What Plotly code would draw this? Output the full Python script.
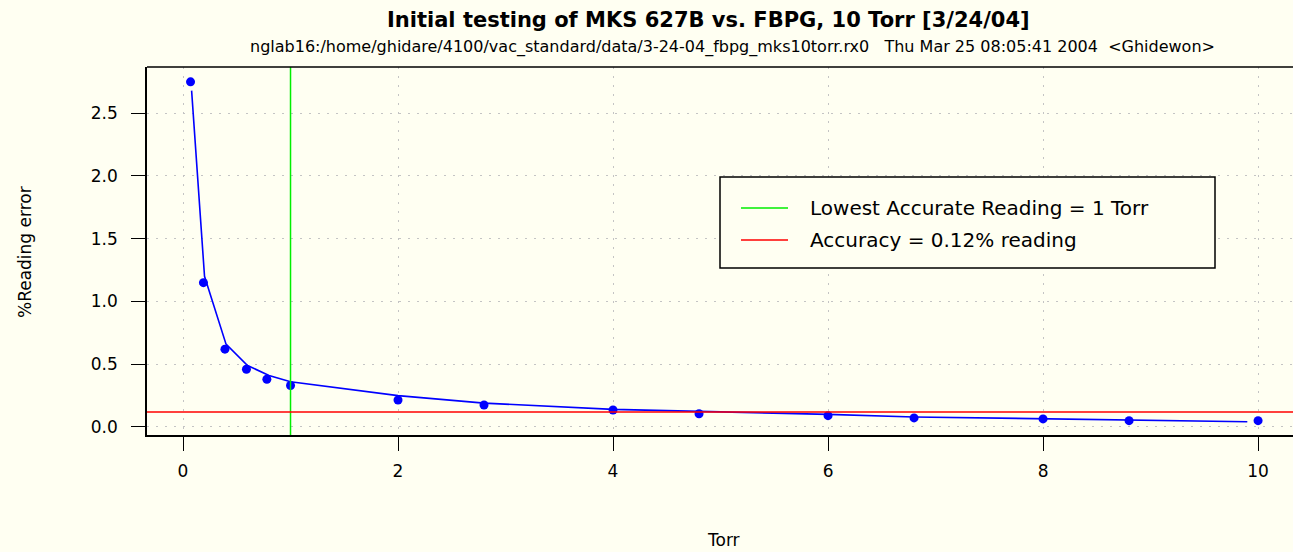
import plotly.graph_objects as go

# Measured data (Torr vs % reading error)
torr = [0.07, 0.19, 0.39, 0.59, 0.78, 1.0, 2.0, 2.8, 4.0, 4.8, 6.0, 6.8, 8.0, 8.8, 10.0]
pct_error = [2.75, 1.15, 0.62, 0.46, 0.38, 0.33, 0.215, 0.175, 0.135, 0.105, 0.09, 0.072, 0.064, 0.05, 0.05]

# Fitted/connecting curve
fit_torr = [0.08, 0.2, 0.4, 0.6, 0.8, 1.0, 2.0, 2.8, 4.0, 4.8, 6.0, 6.8, 8.0, 8.8, 9.9]
fit_error = [2.68, 1.2, 0.66, 0.49, 0.41, 0.36, 0.25, 0.19, 0.14, 0.125, 0.1, 0.08, 0.066, 0.058, 0.042]

lowest_accurate_torr = 1.0
accuracy_pct = 0.12

x_ticks = [0, 2, 4, 6, 8, 10]
y_ticks = [0.0, 0.5, 1.0, 1.5, 2.0, 2.5]

legend_labels = ["Lowest Accurate Reading = 1 Torr", "Accuracy = 0.12% reading"]
legend_colors = ["#00EE00", "#FF0000"]

BG = "#FFFFF2"
FONT = "DejaVu Sans, Liberation Sans, Arial, sans-serif"

fig = go.Figure()
fig.add_trace(go.Scatter(x=fit_torr, y=fit_error, mode="lines",
                         line=dict(color="#0000FF", width=1.6), showlegend=False))
fig.add_trace(go.Scatter(x=torr, y=pct_error, mode="markers",
                         marker=dict(color="#0000FF", size=9, symbol="circle"),
                         showlegend=False))

fig.add_vline(x=lowest_accurate_torr, line=dict(color=legend_colors[0], width=1.5))
fig.add_hline(y=accuracy_pct, line=dict(color=legend_colors[1], width=1.5))

W, H = 1293, 552
L, R, T, B = 147, 0, 67, 117
pw, ph = W - L - R, H - T - B

def px(xp):
    return (xp - L) / pw

def py(yp):
    return (H - B - yp) / ph

# top border of plot box (right side runs off the picture)
fig.add_shape(type="line", xref="paper", yref="paper", x0=0, x1=1.01, y0=1, y1=1,
              line=dict(color="black", width=1.5), layer="above")

# Legend box
fig.add_shape(type="rect", xref="paper", yref="paper",
              x0=px(720), x1=px(1215), y0=py(268), y1=py(177),
              line=dict(color="black", width=1.5), fillcolor=BG, layer="above")
for i, (lab, col) in enumerate(zip(legend_labels, legend_colors)):
    yy = 208 + i * 32
    fig.add_shape(type="line", xref="paper", yref="paper",
                  x0=px(741), x1=px(788), y0=py(yy), y1=py(yy),
                  line=dict(color=col, width=1.5), layer="above")
    fig.add_annotation(xref="paper", yref="paper", x=px(808), y=py(yy),
                       text=lab, showarrow=False, xanchor="left", yanchor="middle",
                       font=dict(family=FONT, size=20, color="black"))

# Titles
fig.add_annotation(xref="paper", yref="paper", x=px(708), y=py(20),
                   text="<b>Initial testing of MKS 627B vs. FBPG, 10 Torr [3/24/04]</b>",
                   showarrow=False, xanchor="center", yanchor="middle",
                   font=dict(family=FONT, size=21, color="black"))
fig.add_annotation(xref="paper", yref="paper", x=px(732), y=py(47),
                   text="nglab16:/home/ghidare/4100/vac_standard/data/3-24-04_fbpg_mks10torr.rx0&nbsp;&nbsp;&nbsp;Thu Mar 25 08:05:41 2004&nbsp;&nbsp;&lt;Ghidewon&gt;",
                   showarrow=False, xanchor="center", yanchor="middle",
                   font=dict(family=FONT, size=16, color="black"))
fig.add_annotation(xref="paper", yref="paper", x=px(723), y=py(540),
                   text="Torr", showarrow=False, xanchor="center", yanchor="middle",
                   font=dict(family=FONT, size=17, color="black"))
fig.add_annotation(xref="paper", yref="paper", x=px(25), y=py(252),
                   text="%Reading error", showarrow=False, textangle=-90,
                   xanchor="center", yanchor="middle",
                   font=dict(family=FONT, size=17, color="black"))

axis_common = dict(showline=True, linecolor="black", linewidth=1.5, mirror=False,
                   ticks="outside", ticklen=14, tickwidth=1.2, tickcolor="black",
                   showgrid=True, gridcolor="#C4C4C4", griddash="2px,7px", gridwidth=1,
                   zeroline=False, tickfont=dict(family=FONT, size=17, color="black"))

fig.update_layout(
    width=W, height=H,
    margin=dict(l=L, r=R, t=T, b=B),
    paper_bgcolor=BG, plot_bgcolor=BG,
    showlegend=False,
    xaxis=dict(range=[-0.335, 10.325], tickvals=x_ticks, ticklabelstandoff=6,
               ticktext=[str(v) for v in x_ticks], **axis_common),
    yaxis=dict(range=[-0.064, 2.868], tickvals=y_ticks, ticklabelstandoff=10,
               ticktext=[f"{v:.1f}" for v in y_ticks], **axis_common),
)

fig.write_html("out.html", config={"displayModeBar": False},
               post_script="document.body.style.margin='0px';document.body.style.background='%s';" % BG)
